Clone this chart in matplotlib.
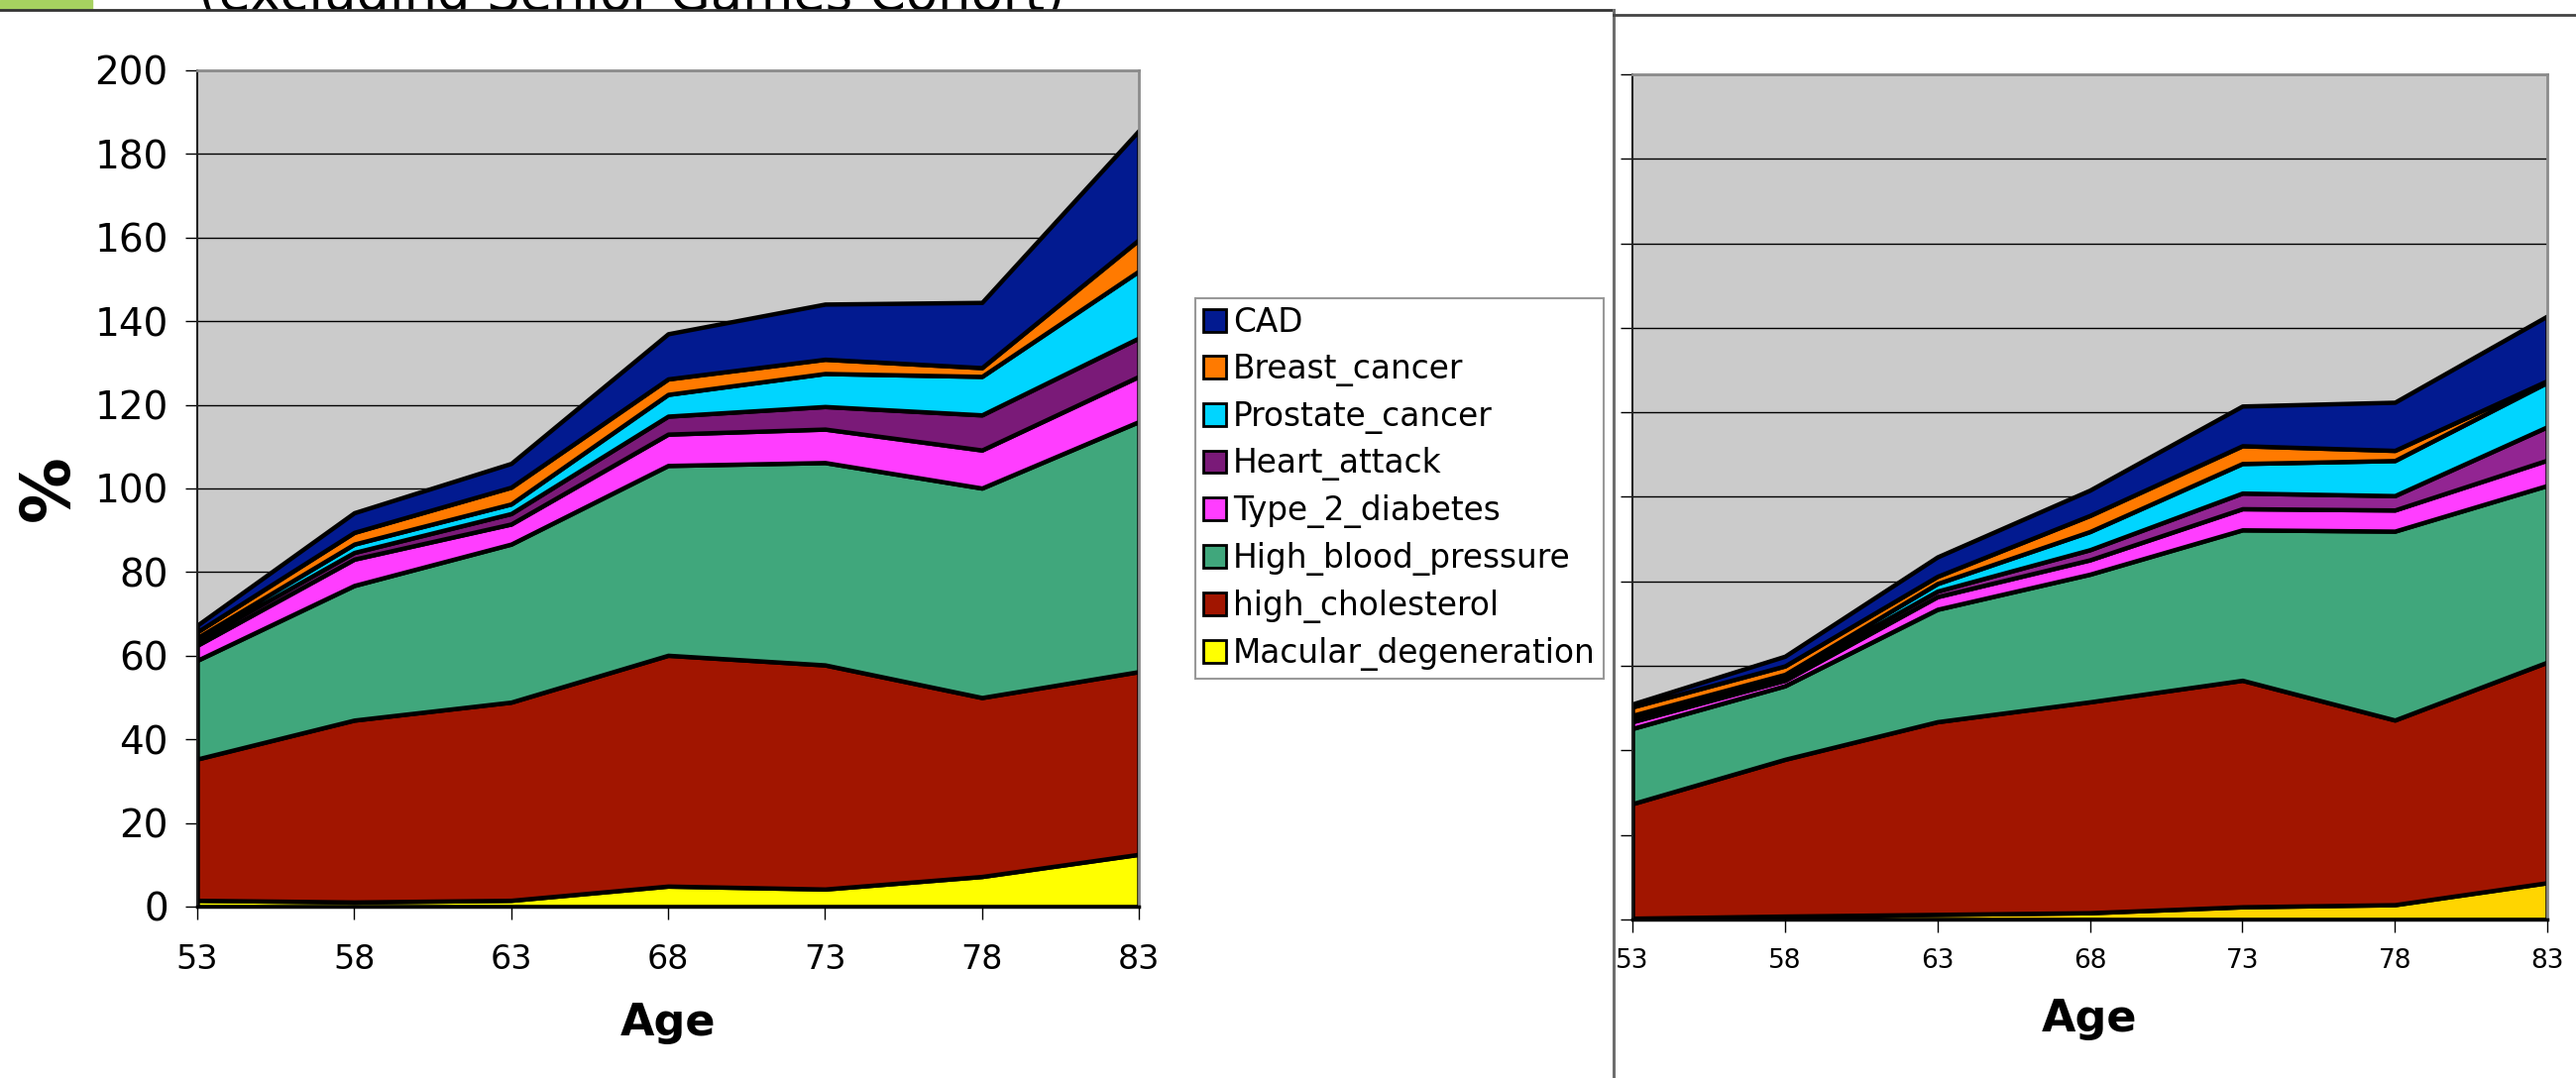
import matplotlib.pyplot as plt
from matplotlib.patches import Patch, Rectangle

# ages on the x axis
ages = [53, 58, 63, 68, 73, 78, 83]

labels = ['Macular_degeneration', 'high_cholesterol', 'High_blood_pressure',
          'Type_2_diabetes', 'Heart_attack', 'Prostate_cancer',
          'Breast_cancer', 'CAD']

# left panel (%), bottom layer first
left_macular = [1.5, 1.1, 1.5, 4.9, 4.2, 7.2, 12.5]
left_cholesterol = [33.8, 43.5, 47.4, 55.2, 53.6, 42.8, 43.7]
left_bp = [23.6, 32.2, 37.8, 45.4, 48.4, 50.1, 59.8]
left_diabetes = [3.6, 6.3, 4.8, 7.5, 8.0, 9.1, 10.8]
left_heart = [1.1, 1.6, 2.5, 4.3, 5.4, 8.4, 9.2]
left_prostate = [0.7, 2.0, 2.3, 5.2, 7.9, 9.2, 16.0]
left_breast = [1.4, 2.8, 4.0, 3.7, 3.4, 2.1, 7.5]
left_cad = [1.6, 4.7, 5.7, 10.8, 13.2, 15.6, 26.1]

# right panel (%), bottom layer first
right_macular = [0.3, 0.8, 1.2, 1.6, 3.0, 3.5, 8.7]
right_cholesterol = [27.1, 37.1, 45.6, 49.9, 53.6, 43.7, 52.2]
right_bp = [17.8, 17.4, 26.6, 30.2, 35.6, 44.7, 41.8]
right_diabetes = [1.6, 1.3, 3.0, 3.4, 5.0, 5.0, 6.0]
right_heart = [1.1, 1.0, 1.3, 2.4, 3.7, 3.4, 7.9]
right_prostate = [0.4, 0.4, 1.8, 4.3, 7.0, 8.3, 10.5]
right_breast = [2.0, 2.0, 1.7, 3.8, 4.2, 2.4, 0.4]
right_cad = [0.7, 2.3, 4.6, 6.0, 9.4, 11.4, 15.3]

left_colors = ['#FFFF00', '#A11500', '#40A77C', '#FF3DFF', '#7A1A78',
               '#00D5FF', '#FF7A00', '#021A90']
right_colors = ['#FFD500', '#A11500', '#40A77C', '#FF3DFF', '#922592',
                '#00D5FF', '#FF7A00', '#021A90']

W, H = 2599, 1088
fig = plt.figure(figsize=(W / 100, H / 100), dpi=100)


def box(x0, y0, x1, y1):
    # pixel box (from top-left) -> figure fraction
    return [x0 / W, 1 - y1 / H, (x1 - x0) / W, (y1 - y0) / H]


# background: cut-off slide title and panel frames
bg = fig.add_axes([0, 0, 1, 1], zorder=0)
bg.set_xlim(0, W)
bg.set_ylim(H, 0)
bg.axis('off')
bg.add_patch(Rectangle((0, 0), 93, 9, color='#A6D160', zorder=1))
bg.text(200, 10, '(excluding Senior Games Cohort)', fontsize=38,
        va='baseline', ha='left', zorder=1)
bg.add_patch(Rectangle((0, 10), W, H, color='white', zorder=2))
bg.plot([0, 1627], [10, 10], color='#333333', lw=2, zorder=3)
bg.plot([1627.5, 1627.5], [10, H], color='#6E6E6E', lw=2.2, zorder=3)
bg.plot([1628, W], [15, 15], color='#444444', lw=2, zorder=3)


def panel(rect, series, colors, xsize, xpad, lpad):
    ax = fig.add_axes(rect, zorder=2)
    ax.set_facecolor('#CBCBCB')
    ax.stackplot(ages, *series, colors=colors, edgecolor='black', linewidth=3.2)
    ax.set_xlim(53, 83)
    ax.set_ylim(0, 200)
    ax.set_xticks(ages)
    ax.set_yticks(range(0, 201, 20))
    ax.set_axisbelow(True)
    ax.grid(axis='y', color='black', linewidth=1.0)
    ax.tick_params(direction='out', length=9, width=1)
    ax.tick_params(axis='x', labelsize=xsize, pad=xpad)
    for s in ('top', 'right'):
        ax.spines[s].set_color('#8C8C8C')
        ax.spines[s].set_linewidth(2)
    ax.spines['left'].set_color('#222222')
    ax.spines['left'].set_linewidth(1.5)
    ax.spines['bottom'].set_color('black')
    ax.spines['bottom'].set_linewidth(2.5)
    ax.set_xlabel('Age', fontsize=32, fontweight='bold', labelpad=lpad)
    return ax


ax1 = panel(box(199, 71, 1149, 915),
            [left_macular, left_cholesterol, left_bp, left_diabetes,
             left_heart, left_prostate, left_breast, left_cad],
            left_colors, 24, 18, 18)
ax1.tick_params(axis='y', labelsize=28, pad=12)
ax1.set_ylabel('%', fontsize=48, fontweight='bold', labelpad=9)

ax2 = panel(box(1647, 75, 2570, 928),
            [right_macular, right_cholesterol, right_bp, right_diabetes,
             right_heart, right_prostate, right_breast, right_cad],
            right_colors, 19, 12, 17)
ax2.set_yticklabels([])

handles = [Patch(facecolor=c, edgecolor='black', linewidth=2)
           for c in left_colors]
leg = fig.legend(handles[::-1], labels[::-1], loc='upper left',
                 bbox_to_anchor=(1206 / W, 1 - 301 / H), fontsize=23.6,
                 frameon=True, fancybox=False, edgecolor='#808080',
                 handlelength=0.7, handleheight=0.7, handletextpad=0.2,
                 labelspacing=0.42, borderpad=0.25, borderaxespad=0)
leg.get_frame().set_linewidth(1.5)

fig.savefig('out.png', dpi=100, facecolor='white')
